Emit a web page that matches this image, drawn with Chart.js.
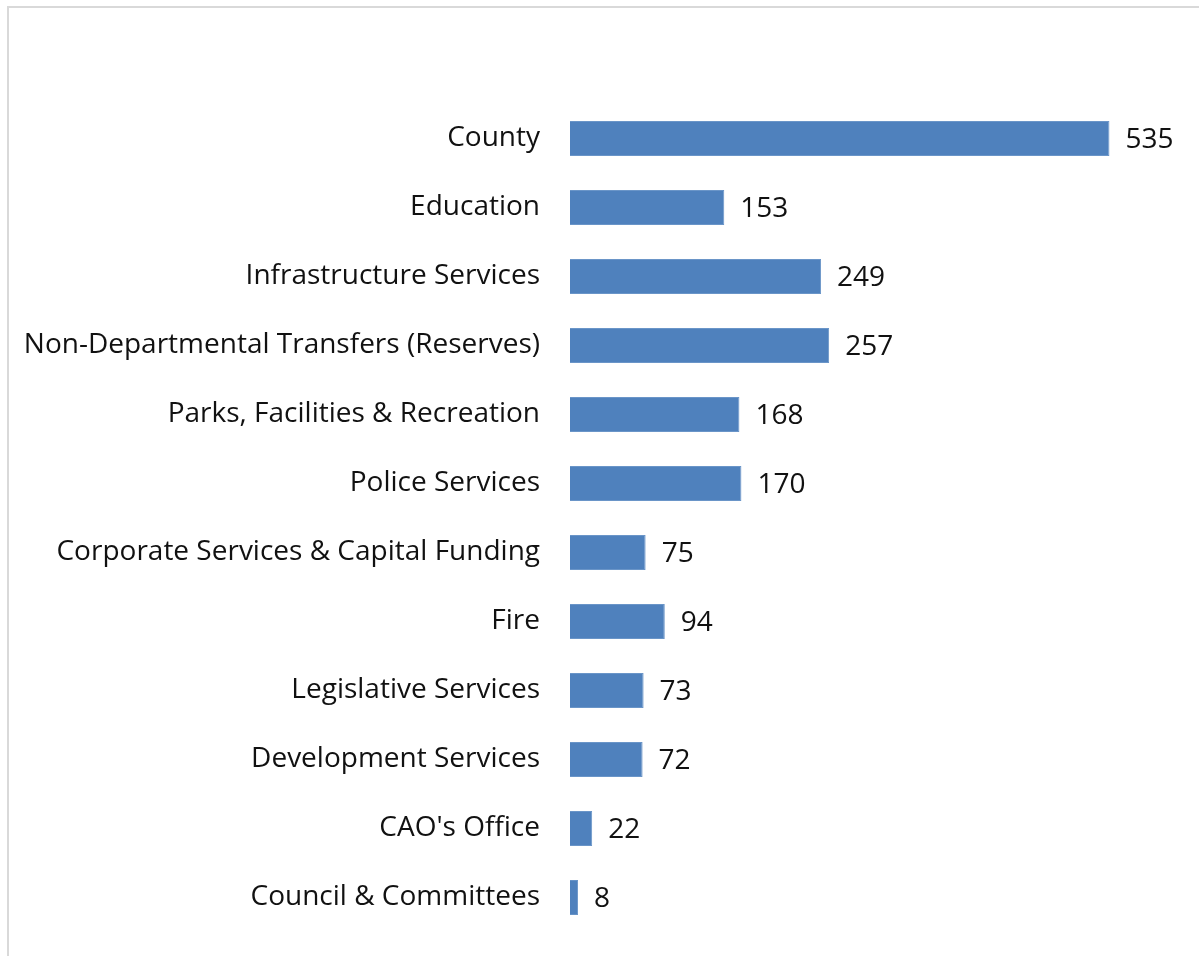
<!DOCTYPE html>
<html>
<head>
<meta charset="utf-8">
<script src="https://cdn.jsdelivr.net/npm/chart.js@4/dist/chart.umd.min.js"></script>
<style>
  html, body { margin: 0; padding: 0; background: #fff; }
  #frame {
    position: absolute; left: 7px; top: 6px; width: 1192px; height: 950px;
    border-top: 2px solid #d9d9d9; border-left: 2px solid #d9d9d9;
    box-sizing: border-box;
  }
  #wrap { position: absolute; left: 0; top: 0; width: 1199px; height: 956px; }
</style>
</head>
<body>
<div id="frame"></div>
<div id="wrap"><canvas id="chart"></canvas></div>
<script>
// Budget allocation by department
const categories = [
  "County",
  "Education",
  "Infrastructure Services",
  "Non-Departmental Transfers (Reserves)",
  "Parks, Facilities & Recreation",
  "Police Services",
  "Corporate Services & Capital Funding",
  "Fire",
  "Legislative Services",
  "Development Services",
  "CAO's Office",
  "Council & Committees"
];
const values = [535, 153, 249, 257, 168, 170, 75, 94, 73, 72, 22, 8];

const FONT = "'Open Sans', 'DejaVu Sans', sans-serif";
const FONT_SIZE = 28;
const TEXT_COLOR = "#111111";
const BAR_COLOR = "#4F81BD";

// Writes each bar's value just past its end
const valueLabels = {
  id: "valueLabels",
  afterDatasetsDraw(chart) {
    const ctx = chart.ctx;
    const meta = chart.getDatasetMeta(0);
    const data = chart.data.datasets[0].data;
    ctx.save();
    ctx.font = FONT_SIZE + "px " + FONT;
    ctx.fillStyle = TEXT_COLOR;
    ctx.textAlign = "left";
    ctx.textBaseline = "middle";
    meta.data.forEach((bar, i) => {
      ctx.fillText(String(data[i]), bar.x + 16, bar.y + 2);
    });
    ctx.restore();
  }
};

new Chart(document.getElementById("chart"), {
  type: "bar",
  data: {
    labels: categories,
    datasets: [{
      data: values,
      backgroundColor: BAR_COLOR,
      borderColor: "#6A95C8",
      borderWidth: 1,
      categoryPercentage: 1,
      barPercentage: 0.51
    }]
  },
  options: {
    indexAxis: "y",
    responsive: true,
    maintainAspectRatio: false,
    animation: false,
    layout: { padding: { top: 104, bottom: 24, left: 0, right: 24 } },
    plugins: { legend: { display: false }, tooltip: { enabled: false } },
    scales: {
      x: {
        display: false,
        min: 0,
        max: 600
      },
      y: {
        afterFit(scale) {
          scale.width = 570;
          // category labels sit at band centres, so no extra room above/below
          scale.paddingTop = 0;
          scale.paddingBottom = 0;
        },
        grid: { display: false, drawTicks: false },
        border: { display: false },
        ticks: {
          padding: 30,
          color: TEXT_COLOR,
          font: { family: FONT, size: FONT_SIZE }
        }
      }
    }
  },
  plugins: [valueLabels]
});
</script>
</body>
</html>
